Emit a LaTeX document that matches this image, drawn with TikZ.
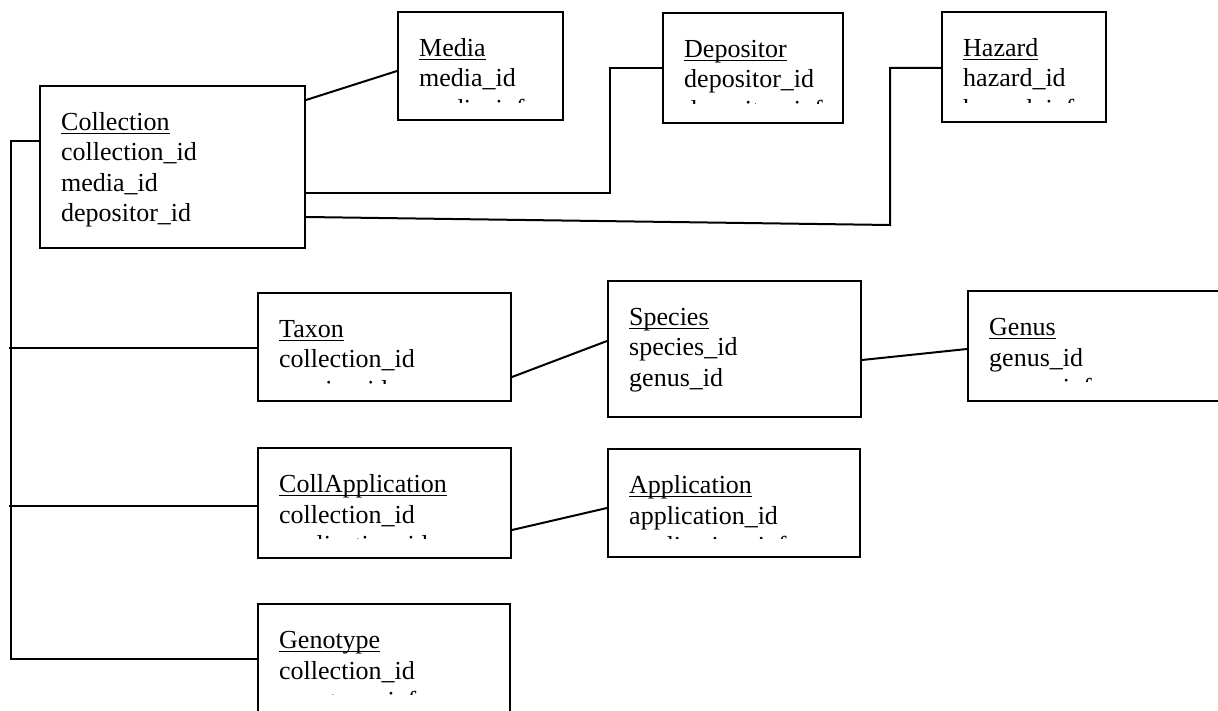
\documentclass[tikz,border=0pt]{standalone}
\usepackage{fontspec}
\setmainfont{Liberation Serif}
\usetikzlibrary{fit}

% underlined table title
\newcommand\tabletitle[1]{\leavevmode\setbox0=\hbox{#1}\rlap{\rule[-3.4pt]{\wd0}{1.3pt}}\box0}

\tikzset{
  erframe/.style={draw=black, line width=2pt, inner sep=0pt, fill=none},
  fieldtext/.style={inner sep=0pt, anchor=base west, text=black,
    font=\fontsize{26}{30.5}\selectfont},
  link/.style={draw=black, line width=2pt}
}

% #1 name, #2 left, #3 top, #4 right, #5 bottom, #6 bottom of visible text, #7 title, #8 fields
\newcommand\erbox[8]{%
  \node[erframe, fit={(#2,#3) (#4,#5)}] (#1) {};
  \begin{scope}
    \clip (#2,#3) rectangle (#4,#6);
    \node[fieldtext] (#1-text) at ({#2+21},{#3+44.5})
      {\parbox[t]{9cm}{\tabletitle{#7}\\#8}};
  \end{scope}
}

\begin{document}
\begin{tikzpicture}[x=1pt, y=-1pt]
  \useasboundingbox (0,0) rectangle (1218,711);

  \erbox{coll}{40}{86}{305}{248}{248}{Collection}{collection\_id\\media\_id\\depositor\_id}
  \erbox{media}{398}{12}{563}{120}{103}{Media}{media\_id\\media\_info}
  \erbox{depo}{663}{13}{843}{123}{104}{Depositor}{depositor\_id\\depositor\_info}
  \erbox{haz}{942}{12}{1106}{122}{103}{Hazard}{hazard\_id\\hazard\_info}
  \erbox{taxon}{258}{293}{511}{401}{383}{Taxon}{collection\_id\\species\_id}
  \erbox{species}{608}{281}{861}{417}{417}{Species}{species\_id\\genus\_id}
  \erbox{genus}{968}{291}{1232}{401}{381}{Genus}{genus\_id\\genus\_info}
  \erbox{collapp}{258}{448}{511}{558}{538}{CollApplication}{collection\_id\\application\_id}
  \erbox{app}{608}{449}{860}{557}{538}{Application}{application\_id\\application\_info}
  \erbox{geno}{258}{604}{510}{725}{694}{Genotype}{collection\_id\\genotype\_info}

  % bend points of the elbow connectors
  \coordinate (dbend) at (610,68);
  \coordinate (hlow) at (890,225);
  \coordinate (hbend) at (890,68);
  \coordinate (bustop) at (11,141);
  \coordinate (busbot) at (11,659);
  \coordinate (taxtap) at (9,348);
  \coordinate (apptap) at (9,506);

  % Collection to its lookup tables
  \draw[link] (coll.east |- 0,100) -- (media.west |- 0,71);
  \draw[link] (coll.east |- 0,193) -| (dbend) -- (depo.west |- dbend);
  \draw[link] (coll.east |- 0,217) -- (hlow) -- (hbend) -- (haz.west |- hbend);

  % Collection bus on the left
  \draw[link] (coll.west |- bustop) -- (bustop) -- (busbot) -- (geno.west |- busbot);
  \draw[link] (taxtap) -- (taxon.west |- taxtap);
  \draw[link] (apptap) -- (collapp.west |- apptap);

  % remaining relations
  \draw[link] (taxon.east |- 0,377) -- (species.west |- 0,341);
  \draw[link] (species.east |- 0,360) -- (genus.west |- 0,349);
  \draw[link] (collapp.east |- 0,530) -- (app.west |- 0,508);
\end{tikzpicture}
\end{document}
